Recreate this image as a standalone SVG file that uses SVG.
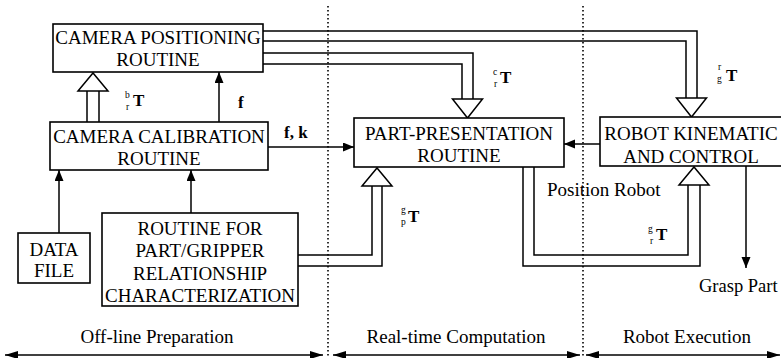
<svg xmlns="http://www.w3.org/2000/svg" width="781" height="358" viewBox="0 0 781 358">
<style>
.box{fill:#fff;stroke:#000;stroke-width:1.6}
.t{font-family:"Liberation Serif","Times New Roman",serif;font-size:19px;fill:#000;text-anchor:middle}
.lbl{font-family:"Liberation Serif","Times New Roman",serif;font-size:19px;fill:#000}
.bT{font-family:"Liberation Serif","Times New Roman",serif;font-size:17px;font-weight:bold;fill:#000}
.sm{font-family:"Liberation Serif","Times New Roman",serif;font-size:9.5px;fill:#000}
.ln{fill:none;stroke:#000;stroke-width:1.5}
.hol{fill:#fff;stroke:#000;stroke-width:1.5;stroke-linejoin:miter}
.dot{fill:none;stroke:#000;stroke-width:1.6;stroke-dasharray:1.6 2.4}
.arr{fill:none;stroke:#000;stroke-width:1.5;marker-end:url(#ah)}
.darr{fill:none;stroke:#000;stroke-width:1.6;marker-end:url(#ah2);marker-start:url(#ah2)}
</style>
<defs>
<marker id="ah" markerUnits="userSpaceOnUse" markerWidth="12" markerHeight="10" refX="11" refY="4.5" orient="auto"><path d="M0,0 L11,4.5 L0,9 z" fill="#000"/></marker>
<marker id="ah2" markerUnits="userSpaceOnUse" markerWidth="14" markerHeight="10" refX="13" refY="4" orient="auto-start-reverse"><path d="M0,0 L13,4 L0,8 z" fill="#000"/></marker>
</defs>
<rect width="781" height="358" fill="#fff"/>

<g id="dividers">
<line class="dot" x1="328" y1="6" x2="328" y2="358"/>
<line class="dot" x1="583" y1="6" x2="583" y2="358"/>
</g>

<g id="connectors">
<path class="ln" d="M87,122 V91 M99,122 V91"/>
<polygon class="hol" points="78,91 108,91 93,73"/>
<path class="arr" d="M219,122 V72"/>
<path class="arr" d="M268,147 H354"/>
<path class="arr" d="M600,144 H564"/>
<path class="arr" d="M59,233 V170"/>
<path class="arr" d="M191,213 V170"/>
<path class="ln" d="M263,53 H473 V99 M263,64 H462 V99"/>
<polygon class="hol" points="452.5,99 482.5,99 467.5,118"/>
<path class="ln" d="M263,31 H697 V98 M263,41 H686 V98"/>
<polygon class="hol" points="676.5,98 706.5,98 691.5,117"/>
<path class="ln" d="M298,255 H372 V186 M298,266 H382 V186"/>
<polygon class="hol" points="362,186 392,186 377,168"/>
<path class="ln" d="M523,167 V266 H700 V185 M534,167 V255 H688 V185"/>
<polygon class="hol" points="679,185 709,185 694,167"/>
<path class="arr" d="M746,166 V268"/>
<path class="darr" d="M5,355 H323"/>
<path class="darr" d="M333,355 H580"/>
<path class="darr" d="M586,355 H780"/>
</g>

<g id="camera-positioning">
<rect class="box" x="53" y="24" width="210" height="48"/>
<text class="t" x="158" y="44">CAMERA POSITIONING</text>
<text class="t" x="158" y="66">ROUTINE</text>
</g>
<g id="camera-calibration">
<rect class="box" x="50" y="122" width="218" height="48"/>
<text class="t" x="159" y="143">CAMERA CALIBRATION</text>
<text class="t" x="159" y="165">ROUTINE</text>
</g>
<g id="part-presentation">
<rect class="box" x="354" y="118" width="210" height="49"/>
<text class="t" x="459" y="140">PART-PRESENTATION</text>
<text class="t" x="459" y="162">ROUTINE</text>
</g>
<g id="robot-kinematic">
<rect class="box" x="600" y="117" width="186" height="49"/>
<text class="t" x="691" y="140">ROBOT KINEMATIC</text>
<text class="t" x="691" y="163">AND CONTROL</text>
</g>
<g id="data-file">
<rect class="box" x="18" y="233" width="72" height="50"/>
<text class="t" x="54" y="256">DATA</text>
<text class="t" x="54" y="277">FILE</text>
</g>
<g id="routine-characterization">
<rect class="box" x="102" y="213" width="196" height="93"/>
<text class="t" x="200" y="235">ROUTINE FOR</text>
<text class="t" x="200" y="257">PART/GRIPPER</text>
<text class="t" x="200" y="280">RELATIONSHIP</text>
<text class="t" x="200" y="302">CHARACTERIZATION</text>
</g>

<g id="labels">
<text class="sm" x="125" y="98">b</text><text class="sm" x="126" y="110">r</text><text class="bT" x="133" y="106">T</text>
<text class="bT" x="238" y="108">f</text>
<text class="bT" x="284" y="138">f, k</text>
<text class="sm" x="493" y="75">c</text><text class="sm" x="494" y="87">r</text><text class="bT" x="500" y="83">T</text>
<text class="sm" x="718" y="70">r</text><text class="sm" x="717" y="82">g</text><text class="bT" x="726" y="81">T</text>
<text class="sm" x="401" y="213">g</text><text class="sm" x="401" y="225">p</text><text class="bT" x="408" y="222">T</text>
<text class="sm" x="648" y="232">g</text><text class="sm" x="650" y="244">r</text><text class="bT" x="656" y="240">T</text>
<text class="lbl" x="547" y="196">Position Robot</text>
<text class="lbl" x="699" y="292" style="font-size:18.5px">Grasp Part</text>
<text class="t" x="157" y="343">Off-line Preparation</text>
<text class="t" x="456" y="343">Real-time Computation</text>
<text class="t" x="687" y="343">Robot Execution</text>
</g>
</svg>
